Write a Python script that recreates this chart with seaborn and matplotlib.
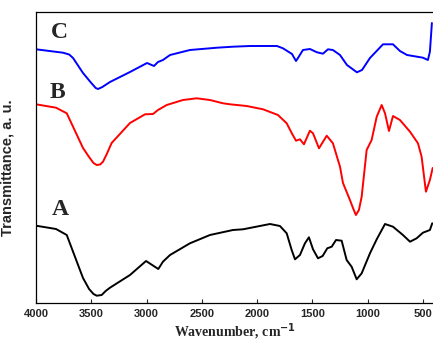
import numpy as np
import pandas as pd
import matplotlib
matplotlib.use("Agg")
import matplotlib.pyplot as plt
import seaborn as sns

# Wavenumbers (cm^-1) and transmittance (a.u., offset) for each sample
wn_C = [4000, 3756, 3700, 3665, 3575, 3500, 3460, 3439, 3400, 3331, 3150, 2996, 2933, 2897,
        2852, 2788, 2608, 2363, 2219, 2065, 1821, 1767, 1685, 1649, 1631, 1586, 1523, 1459,
        1405, 1360, 1315, 1251, 1188, 1098, 1052, 980, 862, 772, 709, 645, 501, 456, 438, 420]
t_C = [253.7, 250.3, 248.5, 245, 230, 220, 215, 214, 216, 221, 231, 240, 237, 241,
       243, 248, 253, 255.3, 256.3, 257, 257, 254.7, 249, 242, 245, 253, 254, 250.7,
       249.3, 253.7, 253, 248, 238, 230.7, 233, 245, 258.7, 258.7, 252, 248, 245.3, 243,
       251.3, 280]

wn_B = [4000, 3819, 3722, 3665, 3575, 3520, 3480, 3451, 3420, 3394, 3360, 3316, 3150, 3014,
        2942, 2897, 2818, 2671, 2547, 2427, 2309, 2246, 2095, 1947, 1812, 1733, 1688, 1649,
        1613, 1577, 1523, 1495, 1441, 1371, 1315, 1251, 1224, 1161, 1130, 1107, 1080, 1055,
        1010, 965, 919, 874, 844, 808, 772, 709, 618, 546, 513, 474, 438, 413]
t_B = [198.7, 195.3, 189.7, 176.3, 155, 146, 140, 138, 138.5, 141.3, 149, 160, 180, 188.7,
       189, 193, 198, 203, 204.7, 203, 199.7, 198.7, 197, 193.7, 188, 179.7, 170, 162.3,
       163.7, 158.7, 172.3, 169.7, 154.7, 167.3, 159.7, 136.3, 120, 103, 94, 88, 93, 106.3,
       153, 163, 186.3, 198, 189.7, 172, 187, 183, 171.3, 159.7, 146.3, 111.3, 123, 135]

wn_A = [4000, 3819, 3722, 3665, 3575, 3520, 3480, 3451, 3406, 3370, 3331, 3150, 3005, 2894,
        2852, 2788, 2608, 2427, 2219, 2128, 1884, 1794, 1733, 1688, 1658, 1613, 1568, 1532,
        1495, 1450, 1408, 1366, 1326, 1287, 1236, 1191, 1146, 1100, 1055, 980, 919, 844, 772,
        682, 618, 558, 501, 438, 417]
t_A = [77.3, 74, 68, 51.3, 25, 14, 9, 7.3, 8, 12, 15.3, 28, 42, 34,
       41.3, 48, 59.7, 68, 73, 73.7, 79, 77, 69.7, 53, 43.7, 48, 59.7, 65.7,
       53.7, 44.7, 47, 54.7, 56.3, 63, 62.3, 43, 36.3, 23.7, 29.7, 49.7, 63.7, 79, 76.3,
       68, 61.3, 64.7, 70.3, 73, 79.7]

labels = ["C", "B", "A"]
colors = {"C": "#0000FF", "B": "#FF0000", "A": "#000000"}
x_ticks = [4000, 3500, 3000, 2500, 2000, 1500, 1000, 500]

df = pd.concat([
    pd.DataFrame({"wn": wn_C, "t": t_C, "sample": "C"}),
    pd.DataFrame({"wn": wn_B, "t": t_B, "sample": "B"}),
    pd.DataFrame({"wn": wn_A, "t": t_A, "sample": "A"}),
], ignore_index=True)

sns.set_style("white")
fig = plt.figure(figsize=(4.33, 3.46), dpi=100)
ax = fig.add_axes([36 / 433, 43 / 346, 1 - 36 / 433, 291 / 346])

sns.lineplot(data=df, x="wn", y="t", hue="sample", palette=colors, sort=False,
             estimator=None, linewidth=1.4, legend=False, ax=ax)
for ln in ax.lines:
    ln.set_solid_joinstyle("round")
    ln.set_solid_capstyle("round")

ax.set_xlim(4000, 410)
ax.set_ylim(0, 291)
ax.set_xticks(x_ticks)
ax.set_xticklabels([str(v) for v in x_ticks], fontfamily="Liberation Sans",
                   fontweight="bold", fontsize=8)
ax.set_yticks([])
ax.tick_params(axis="x", direction="in", length=3, width=0.8, pad=4, bottom=True)

for s in ["left", "top", "bottom"]:
    ax.spines[s].set_color("black")
    ax.spines[s].set_linewidth(0.9)
ax.spines["right"].set_visible(False)

ax.set_xlabel("Wavenumber, cm$^{\\mathbf{-1}}$", fontfamily="Liberation Serif",
              fontweight="bold", fontsize=10, labelpad=2)
ax.set_ylabel("Transmittance, a. u.", fontfamily="Liberation Sans",
              fontweight="bold", fontsize=10.5)
ax.yaxis.set_label_coords(-0.055, 0.465)

pos = {"C": (0.06, 0.928), "B": (0.055, 0.725), "A": (0.06, 0.32)}
for lab in labels:
    ax.text(pos[lab][0], pos[lab][1], lab, transform=ax.transAxes, ha="center",
            va="center", fontfamily="Liberation Serif", fontweight="bold", fontsize=17)

fig.savefig("out.png", dpi=100)
